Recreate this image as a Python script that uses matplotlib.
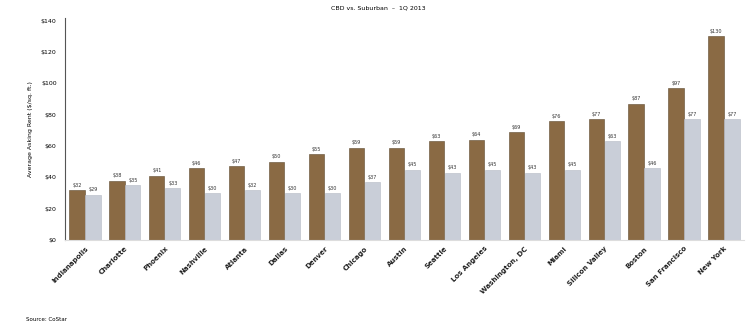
import matplotlib.pyplot as plt
import numpy as np

cities = ["Indianapolis", "Charlotte", "Phoenix", "Nashville", "Atlanta", "Dallas",
          "Denver", "Chicago", "Austin", "Seattle", "Los Angeles", "Washington, DC",
          "Miami", "Silicon Valley", "Boston", "San Francisco", "New York"]
cbd = [32, 38, 41, 46, 47, 50, 55, 59, 59, 63, 64, 69, 76, 77, 87, 97, 130]
suburban = [29, 35, 33, 30, 32, 30, 30, 37, 45, 43, 45, 43, 45, 63, 46, 77, 77]

brown = "#8a6a44"
grey = "#c9ced8"

fig = plt.figure(figsize=(7.56, 3.27), dpi=100)
ax = fig.add_axes([0.086, 0.266, 0.898, 0.68])

x = np.arange(len(cities))
w = 0.38
b1 = ax.bar(x - w / 2 - 0.01, cbd, w, color=brown, edgecolor="#5e4a30", linewidth=0.4)
b2 = ax.bar(x + w / 2 + 0.01, suburban, w, color=grey, edgecolor="#b5bac4", linewidth=0.4)

# value labels above each bar
for bars, vals in [(b1, cbd), (b2, suburban)]:
    for rect, v in zip(bars, vals):
        ax.text(rect.get_x() + rect.get_width() / 2, v + 1.5, f"${v}", ha="center",
                va="bottom", fontsize=3.5, color="#333333")

ax.set_xlim(-0.5, len(cities) - 0.5)
ax.set_ylim(0, 142)
ax.set_yticks(np.arange(0, 141, 20))
ax.set_yticklabels([f"${t}" for t in range(0, 141, 20)], fontsize=4.5)
ax.set_xticks(x)
ax.set_xticklabels(cities, rotation=45, ha="right", rotation_mode="anchor",
                   fontsize=5, fontweight="bold", color="#222222")
ax.tick_params(axis="x", length=0, pad=4)
ax.tick_params(axis="y", length=0, pad=6)
ax.set_ylabel("Average Asking Rent ($/sq. ft.)", fontsize=4.5, labelpad=6)

for s in ["top", "right"]:
    ax.spines[s].set_visible(False)
ax.spines["left"].set_color("#555555")
ax.spines["left"].set_linewidth(0.8)
ax.spines["bottom"].set_color("#dddddd")

fig.text(0.5, 0.975, "CBD vs. Suburban  –  1Q 2013", ha="center", va="center", fontsize=4.5)
fig.text(0.035, 0.015, "Source: CoStar", ha="left", va="bottom", fontsize=4)

fig.savefig("out.png", dpi=100)
